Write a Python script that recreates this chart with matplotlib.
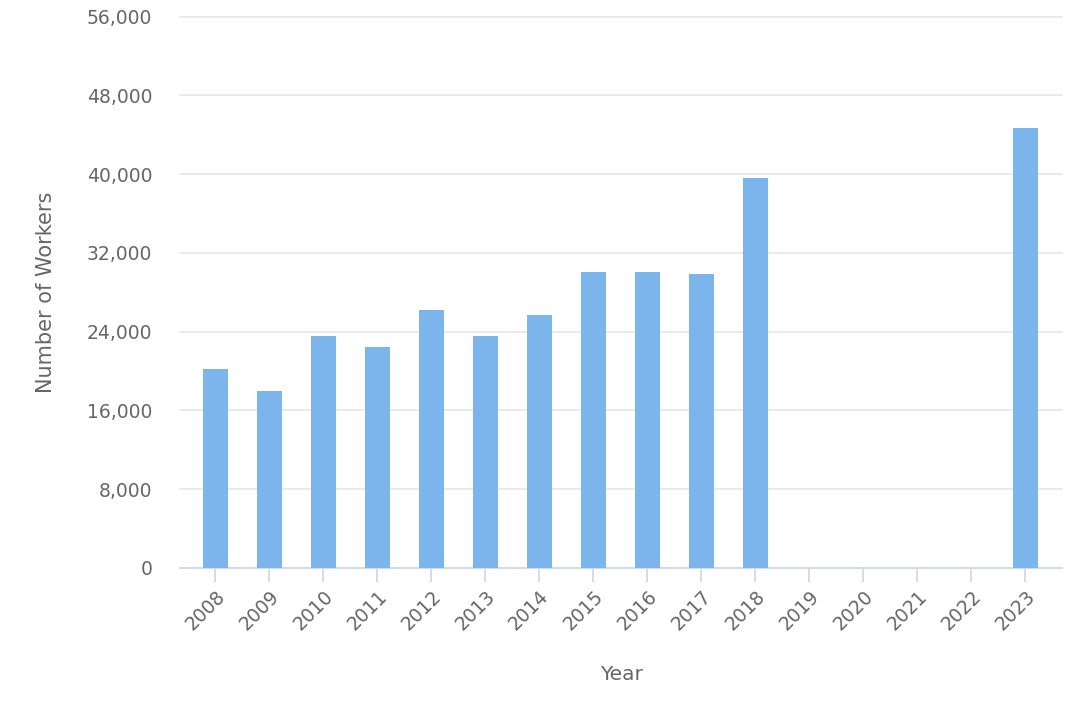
import matplotlib.pyplot as plt
from matplotlib.ticker import FuncFormatter

# data
years = ['2008', '2009', '2010', '2011', '2012', '2013', '2014', '2015',
         '2016', '2017', '2018', '2019', '2020', '2021', '2022', '2023']
workers = [20200, 18000, 23500, 22400, 26200, 23500, 25700, 30100,
           30100, 29900, 39600, 0, 0, 0, 0, 44700]
y_ticks = [0, 8000, 16000, 24000, 32000, 40000, 48000, 56000]

plt.rcParams['font.family'] = ['DejaVu Sans']

fig = plt.figure(figsize=(10.8, 7.2), dpi=100)
ax = fig.add_axes([0.1667, 0.2115, 0.8166, 0.7653])

x = list(range(len(years)))
ax.bar(x, workers, width=0.46, color='#7cb5ec', zorder=3)

ax.set_xlim(-0.65, 15.68)
ax.set_ylim(0, 56000)
ax.set_yticks(y_ticks)
ax.yaxis.set_major_formatter(FuncFormatter(lambda v, p: f'{int(v):,}'))
ax.grid(axis='y', color='#e6e6e6', linewidth=1.2, zorder=0)
for gl in ax.get_ygridlines():
    gl.set_clip_on(False)

ax.set_xticks(x)
ax.set_xticklabels(years, rotation=45, ha='right', rotation_mode='anchor')

for s in ['top', 'right', 'left']:
    ax.spines[s].set_visible(False)
ax.spines['bottom'].set_color('#ccd6eb')
ax.spines['bottom'].set_linewidth(1.2)

ax.tick_params(axis='y', length=0, pad=20, labelsize=13.5, labelcolor='#666666')
ax.tick_params(axis='x', length=10, width=1.2, color='#ccd6eb', pad=4,
               labelsize=13.5, labelcolor='#666666')

ax.set_ylabel('Number of Workers', fontsize=15, color='#666666', labelpad=22)
ax.set_xlabel('Year', fontsize=14.5, color='#666666', labelpad=22)

fig.savefig('out.png', dpi=100, facecolor='white')
plt.close(fig)
